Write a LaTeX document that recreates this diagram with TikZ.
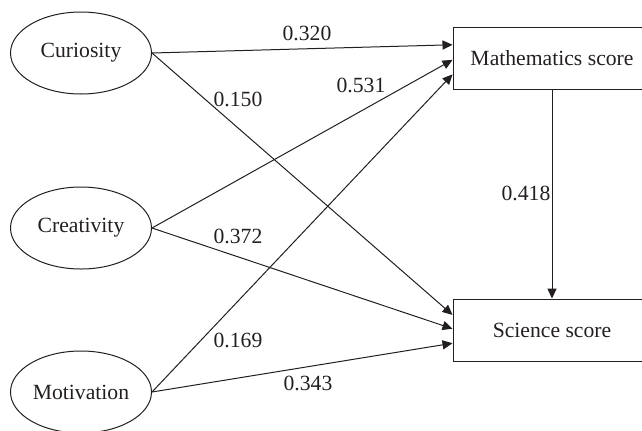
\documentclass[tikz,border=0pt]{standalone}
\usepackage{fontspec}
\setmainfont{Liberation Serif}
\usepackage{xcolor}
\usetikzlibrary{
  arrows.meta,
  calc,
  shapes.geometric,
}
\definecolor{ink}{HTML}{231F20}

\begin{document}
\begin{tikzpicture}[
  x=0.6pt, y=-0.6pt,
  font=\fontsize{13}{15}\selectfont,
  every node/.style={align=center, text=ink},
  latent/.style={draw=ink, ellipse, line width=0.6pt, inner sep=0pt,
                 minimum width=84.6pt, minimum height=49.2pt},
  score/.style={draw=ink, rectangle, line width=0.6pt,
                minimum width=118.8pt, minimum height=37.2pt},
  link/.style={-{Triangle[length=6pt,width=5.5pt]}, draw=ink, line width=0.6pt},
]
\useasboundingbox (0,0) rectangle (642,430);

\node[latent] (cur) at (81,53) {Curiosity};
\node[latent] (cre) at (81,228) {Creativity};
\node[latent] (mot) at (81,392) {Motivation};

\node[score] (math) at (552,58) {Mathematics score};
\node[score] (sci) at (552,330) {Science score};

% paths to mathematics
\draw[link] (cur.east) -- ($(math.north west)!0.29!(math.south west)$);
\draw[link] (cre.east) -- ($(math.north west)!0.53!(math.south west)$);
\draw[link] (mot.east) -- ($(math.north west)!0.76!(math.south west)$);

% paths to science
\draw[link] (cur.east) -- ($(sci.north west)!0.26!(sci.south west)$);
\draw[link] (cre.east) -- ($(sci.north west)!0.48!(sci.south west)$);
\draw[link] (mot.east) -- ($(sci.north west)!0.71!(sci.south west)$);

\draw[link] (math.south) -- (sci.north);

% coefficients
\node (c320) at (307,33) {0.320};
\node (c150) at (238,99) {0.150};
\node (c531) at (361,85) {0.531};
\node (c418) at (526,193) {0.418};
\node (c372) at (238,236) {0.372};
\node (c169) at (238,340) {0.169};
\node (c343) at (308,383) {0.343};

\end{tikzpicture}
\end{document}
